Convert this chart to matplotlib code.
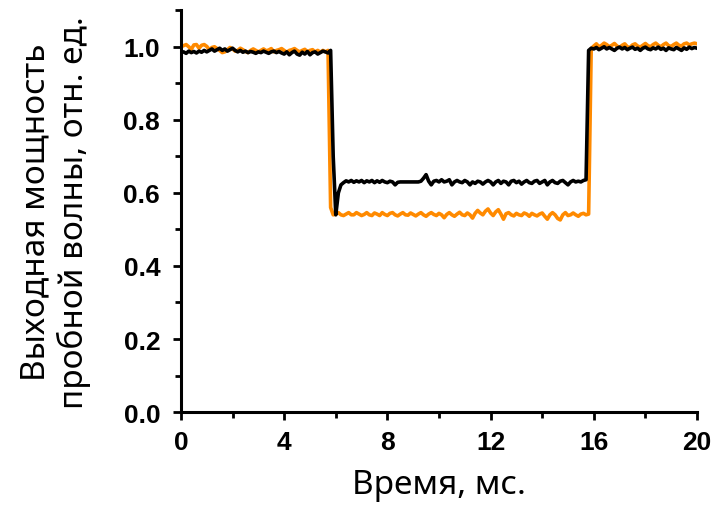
import numpy as np
import matplotlib.pyplot as plt
from matplotlib.ticker import MultipleLocator

# ── данные: отсчёты через 0.1 мс ──
orange_vals = [
    1.000, 1.003, 1.006, 1.000, 0.993, 1.005, 1.006, 0.996, 1.004, 1.006,
    1.001, 0.992, 0.998, 1.000, 0.995, 0.990, 0.984, 0.986, 0.992, 0.998,
    0.994, 0.988, 0.990, 0.996, 0.992, 0.987, 0.984, 0.990, 0.994, 0.990,
    0.986, 0.990, 0.994, 0.989, 0.991, 0.995, 0.986, 0.990, 0.992, 0.995,
    0.990, 0.985, 0.990, 0.992, 0.995, 0.990, 0.986, 0.990, 0.993, 0.986,
    0.990, 0.992, 0.986, 0.990, 0.985, 0.990, 0.986, 0.990,
    0.560,
    0.540, 0.542, 0.546, 0.540, 0.538, 0.542, 0.546, 0.540, 0.540, 0.546,
    0.542, 0.538, 0.541, 0.546, 0.540, 0.538, 0.545, 0.542, 0.538, 0.546,
    0.541, 0.538, 0.544, 0.546, 0.540, 0.537, 0.542, 0.546, 0.540, 0.539,
    0.545, 0.541, 0.537, 0.542, 0.546, 0.540, 0.536, 0.542, 0.546, 0.541,
    0.538, 0.544, 0.540, 0.532, 0.541, 0.546, 0.540, 0.536, 0.542, 0.547,
    0.540, 0.538, 0.545, 0.540, 0.531, 0.544, 0.552, 0.545, 0.540, 0.550,
    0.556, 0.545, 0.538, 0.548, 0.554, 0.542, 0.528, 0.543, 0.546, 0.540,
    0.537, 0.544, 0.540, 0.538, 0.545, 0.542, 0.536, 0.544, 0.540, 0.537,
    0.542, 0.545, 0.536, 0.528, 0.540, 0.546, 0.540, 0.530, 0.526, 0.540,
    0.546, 0.538, 0.540, 0.545, 0.540, 0.536, 0.542, 0.544, 0.540, 0.542,
    0.995, 1.002, 1.008, 1.000, 1.004, 1.010, 1.006, 1.000, 1.004, 1.009,
    1.002, 0.998, 1.004, 1.008, 1.000, 0.998, 1.005, 1.008, 1.002, 0.999,
    1.004, 1.009, 1.003, 1.000, 1.006, 1.010, 1.004, 1.000, 1.006, 1.010,
    1.003, 1.001, 1.006, 1.010, 1.004, 1.002, 1.008, 1.010, 1.005, 1.008,
    1.010, 1.008,
]

black_vals = [
    0.984, 0.986, 0.982, 0.988, 0.984, 0.987, 0.983, 0.988, 0.985, 0.990,
    0.986, 0.990, 0.994, 0.988, 0.992, 0.996, 0.990, 0.994, 0.988, 0.992,
    0.996, 0.990, 0.986, 0.990, 0.985, 0.988, 0.984, 0.987, 0.985, 0.982,
    0.986, 0.984, 0.988, 0.985, 0.982, 0.986, 0.988, 0.984, 0.987, 0.983,
    0.980, 0.986, 0.978, 0.984, 0.988, 0.980, 0.977, 0.985, 0.980, 0.987,
    0.978, 0.984, 0.986, 0.980, 0.984, 0.988, 0.986, 0.983, 0.990,
    0.700, 0.540, 0.600, 0.622,
    0.628, 0.633, 0.630, 0.634, 0.629, 0.633, 0.630, 0.634, 0.628, 0.633,
    0.630, 0.634, 0.628, 0.633, 0.629, 0.634, 0.630, 0.628, 0.632, 0.630,
    0.622, 0.629, 0.630, 0.630, 0.630, 0.630, 0.630, 0.630, 0.630, 0.630,
    0.632, 0.640, 0.650, 0.632, 0.622, 0.632, 0.634, 0.630, 0.636, 0.630,
    0.632, 0.636, 0.622, 0.630, 0.634, 0.630, 0.628, 0.634, 0.630, 0.622,
    0.630, 0.626, 0.632, 0.630, 0.624, 0.630, 0.634, 0.630, 0.622, 0.630,
    0.634, 0.626, 0.632, 0.630, 0.622, 0.632, 0.634, 0.628, 0.632, 0.624,
    0.630, 0.634, 0.628, 0.626, 0.632, 0.634, 0.626, 0.630, 0.634, 0.622,
    0.630, 0.634, 0.628, 0.626, 0.632, 0.634, 0.628, 0.622, 0.630, 0.634,
    0.630, 0.632, 0.630, 0.634, 0.636,
    0.990, 0.996, 0.994, 0.998, 0.992, 0.996, 1.000, 0.994, 0.998, 0.994,
    0.990, 0.996, 0.999, 0.994, 0.998, 0.992, 0.996, 0.999, 0.993, 0.996,
    0.990, 0.996, 0.999, 0.994, 0.992, 0.997, 0.994, 0.999, 0.993, 0.996,
    0.990, 0.997, 0.994, 0.992, 0.998, 0.994, 0.990, 0.997, 0.993, 0.999,
    0.995, 0.998, 0.996,
]

t_orange = np.round(np.arange(len(orange_vals)) * 0.1, 1)
t_black = np.round(np.arange(len(black_vals)) * 0.1, 1)

x_ticks = [0, 4, 8, 12, 16, 20]
y_ticks = [0.0, 0.2, 0.4, 0.6, 0.8, 1.0]

tick_font = ['Liberation Sans', 'DejaVu Sans']
label_font = ['Noto Sans', 'DejaVu Sans']

fig = plt.figure(figsize=(7.19, 5.10), dpi=100)
ax = fig.add_axes([0.2517, 0.190, 0.7177, 0.788])

ax.plot(t_orange, orange_vals, color='#ff8a00', linewidth=2.6, zorder=2)
ax.plot(t_black, black_vals, color='black', linewidth=2.6, zorder=3)

ax.set_xlim(0, 20)
ax.set_ylim(0, 1.1)
ax.set_xticks(x_ticks)
ax.set_yticks(y_ticks)
ax.xaxis.set_minor_locator(MultipleLocator(2))
ax.yaxis.set_minor_locator(MultipleLocator(0.1))

for s in ['top', 'right']:
    ax.spines[s].set_visible(False)
for s in ['left', 'bottom']:
    ax.spines[s].set_linewidth(2.2)

ax.tick_params(which='major', direction='out', length=6, width=2)
ax.tick_params(which='minor', direction='out', length=4, width=2)
ax.tick_params(axis='y', which='major', pad=9)
ax.tick_params(axis='x', which='major', pad=7)
ax.set_xticklabels([f'{v}' for v in x_ticks], fontsize=19, fontweight='bold', family=tick_font)
ax.set_yticklabels([f'{v:.1f}' for v in y_ticks], fontsize=19, fontweight='bold', family=tick_font)

ax.set_xlabel('Время, мс.', fontsize=24, family=label_font)
ax.set_ylabel('Выходная мощность\nпробной волны, отн. ед.', fontsize=24,
              family=label_font, linespacing=1.15)
ax.xaxis.set_label_coords(0.5, -0.14)
ax.yaxis.set_label_coords(-0.175, 0.5)

plt.savefig('out.png', dpi=100)
